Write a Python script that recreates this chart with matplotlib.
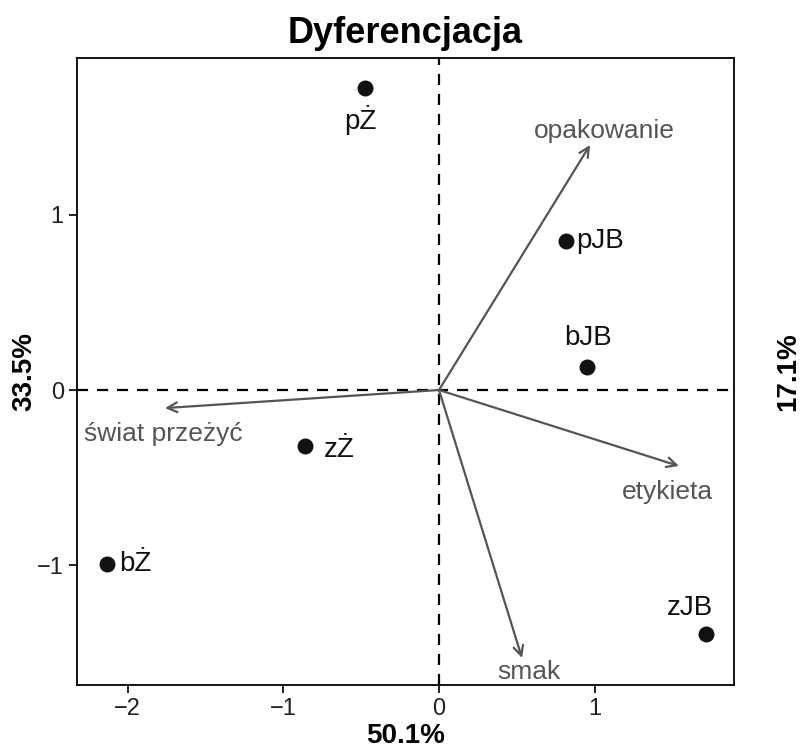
import matplotlib.pyplot as plt

plt.rcParams['font.family'] = ['Liberation Sans', 'DejaVu Sans']

# observations (scores)
obs_names = ['pŻ', 'pJB', 'bJB', 'zŻ', 'bŻ', 'zJB']
obs_x = [-0.475, 0.816, 0.950, -0.861, -2.132, 1.715]
obs_y = [1.720, 0.849, 0.131, -0.319, -0.991, -1.390]

# variables (loadings)
var_names = ['opakowanie', 'świat przeżyć', 'etykieta', 'smak']
var_x = [0.970, -1.760, 1.541, 0.533]
var_y = [1.396, -0.103, -0.433, -1.527]

# label offsets in pixels
obs_off = [(-5, -32, 'center'), (10, 0, 'left'), (1, 29, 'center'),
           (19, -4, 'left'), (12, 0, 'left'), (-16, 26, 'center')]
var_off = [(14, 14), (-2, -26), (-11, -26), (7, -14)]

fig = plt.figure(figsize=(8.04, 7.53), dpi=100)
ax = fig.add_axes([0.0958, 0.0903, 0.8172, 0.8327])

ax.axhline(0, color='black', lw=1.6, ls=(0, (5, 4)), zorder=1)
ax.axvline(0, color='black', lw=1.6, ls=(0, (5, 4)), zorder=1)

for name, x, y, (dx, dy) in zip(var_names, var_x, var_y, var_off):
    ax.annotate('', xy=(x, y), xytext=(0, 0),
                arrowprops=dict(arrowstyle='->,head_length=0.7,head_width=0.35',
                                color='#555555', lw=1.6, shrinkA=0, shrinkB=0))
    ax.annotate(name, xy=(x, y), xytext=(dx, dy), textcoords='offset pixels',
                ha='center', va='center', fontsize=19, color='#555555',
                annotation_clip=False)

ax.scatter(obs_x, obs_y, s=110, color='#111111', zorder=3)
for name, x, y, (dx, dy, ha) in zip(obs_names, obs_x, obs_y, obs_off):
    ax.annotate(name, xy=(x, y), xytext=(dx, dy), textcoords='offset pixels',
                ha=ha, va='center', fontsize=20, color='#111111')

ax.set_xlim(-2.325, 1.895)
ax.set_ylim(-1.681, 1.892)
ax.set_xticks([-2, -1, 0, 1])
ax.set_yticks([-1, 0, 1])
ax.tick_params(labelsize=17, length=6, width=1.2, colors='black', labelcolor='#222222')
for s in ax.spines.values():
    s.set_linewidth(1.3)

ax.set_title('Dyferencjacja', fontsize=26, fontweight='bold', pad=11)
ax.set_xlabel('50.1%', fontsize=20, fontweight='bold', labelpad=2)
ax.set_ylabel('33.5%', fontsize=20, fontweight='bold', labelpad=0)
fig.text(0.98, 0.507, '17.1%', rotation=90, fontsize=20, fontweight='bold',
         ha='center', va='center')

plt.savefig('out.png')
